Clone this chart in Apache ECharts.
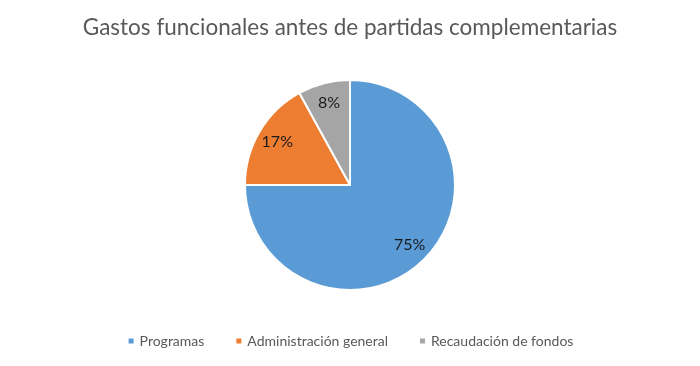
<!DOCTYPE html>
<html><head><meta charset="utf-8">
<script src="https://cdn.jsdelivr.net/npm/echarts@6/dist/echarts.min.js"></script>
<style>html,body{margin:0;padding:0;background:#fff}#c{width:700px;height:366px}</style>
</head><body><div id="c"></div>
<script>
const titleText = 'Gastos funcionales antes de partidas complementarias';
const categories = ['Programas', 'Administración general', 'Recaudación de fondos'];
const values = [75, 17, 8];
const colors = ['#5B9BD5', '#ED7D31', '#A5A5A5'];

const font = 'Lato, "Open Sans", sans-serif';
const data = categories.map((n, i) => ({ name: n, value: values[i], itemStyle: { color: colors[i] } }));
const chart = echarts.init(document.getElementById('c'));
chart.setOption({
  animation: false,
  title: { text: titleText, left: 'center', top: 11, textStyle: { fontFamily: font, fontSize: 22.5, fontWeight: 'normal', color: '#595959' } },
  legend: {
    bottom: 13, left: 'center', icon: 'rect', itemWidth: 7, itemHeight: 7, itemGap: 30,
    textStyle: { fontFamily: font, fontSize: 14, color: '#595959' },
    data: categories
  },
  series: [
    {
      type: 'pie', center: [350, 185], radius: [0, 105], startAngle: 90, clockwise: true,
      label: { show: false }, labelLine: { show: false },
      itemStyle: { borderColor: '#fff', borderWidth: 2 },
      emphasis: { disabled: true }, data: data
    },
    {
      type: 'pie', center: [350, 185], radius: [58, 105], startAngle: 90, clockwise: true, silent: true,
      itemStyle: { color: 'rgba(0,0,0,0)', borderWidth: 0 },
      label: { show: true, position: 'inside', formatter: '{d}%', fontFamily: font, fontSize: 16, color: '#1a1a1a' },
      labelLine: { show: false }, legendHoverLink: false,
      data: categories.map((n, i) => ({ name: n + ' ', value: values[i] }))
    }
  ]
});
</script></body></html>
